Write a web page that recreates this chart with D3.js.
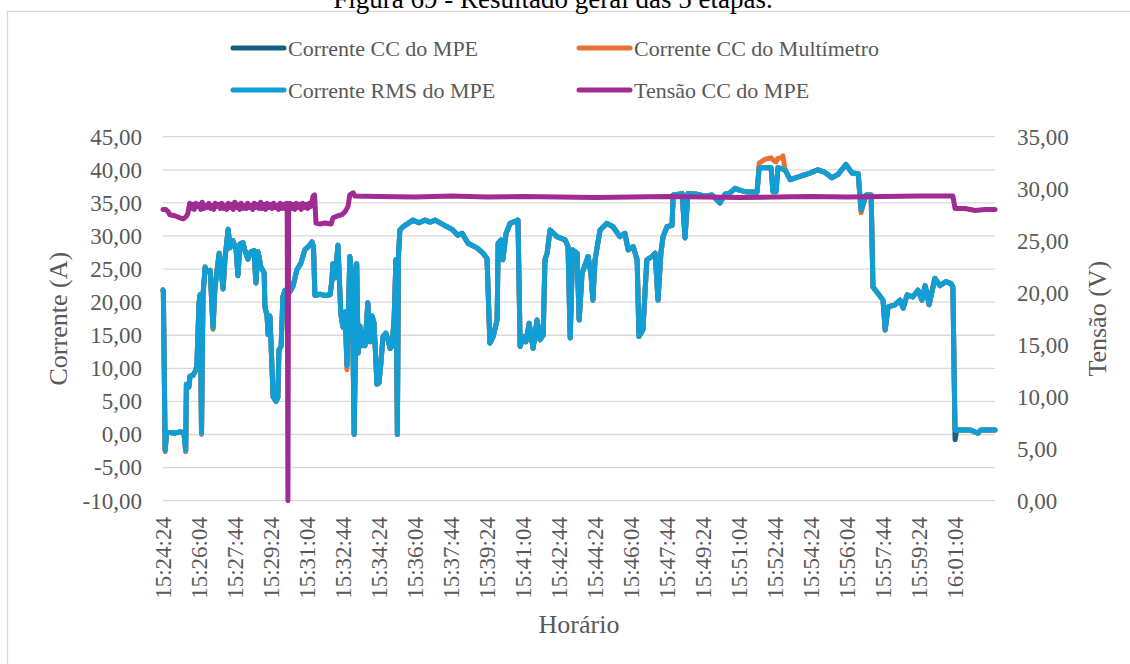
<!DOCTYPE html>
<html>
<head>
<meta charset="utf-8">
<script src="https://cdn.jsdelivr.net/npm/d3@7"></script>
<style>
  body { margin: 0; background: #fff; }
  svg { display: block; font-family: "Liberation Serif", "Times New Roman", serif; }
</style>
</head>
<body>
<svg id="chart" width="1130" height="664"></svg>
<script>
// Tempo decorrido (s) desde 15:24:24 para as três correntes
const tempoCorrente = [
  0, 1, 6, 10, 19, 33, 47, 58, 63, 65,
  72, 75, 83, 89, 94, 100, 103, 107, 111, 117,
  122, 131, 139, 144, 156, 161, 167, 172, 181, 186,
  194, 203, 208, 214, 222, 228, 236, 244, 253, 258,
  264, 272, 281, 283, 289, 292, 297, 306, 314, 319,
  322, 328, 333, 339, 353, 361, 372, 383, 394, 406,
  414, 418, 422, 436, 450, 464, 469, 472, 478, 486,
  490, 494, 500, 506, 511, 519, 525, 531, 538, 542,
  547, 552, 556, 561, 569, 575, 581, 586, 592, 594,
  600, 606, 611, 619, 625, 631, 636, 642, 647, 651,
  654, 658, 667, 681, 694, 711, 728, 742, 756, 772,
  789, 803, 819, 831, 847, 858, 872, 889, 900, 908,
  917, 928, 931, 939, 944, 953, 964, 978, 986, 992,
  1000, 1008, 1017, 1028, 1039, 1047, 1056, 1061, 1067, 1075,
  1094, 1117, 1125, 1131, 1138, 1150, 1156, 1164, 1181, 1189,
  1194, 1200, 1214, 1233, 1250, 1269, 1283, 1292, 1306, 1317,
  1322, 1333, 1344, 1358, 1367, 1375, 1383, 1389, 1400, 1414,
  1417, 1442, 1450, 1458, 1483, 1506, 1525, 1547, 1561, 1575,
  1589, 1603, 1617, 1650, 1656, 1672, 1689, 1694, 1703, 1708,
  1717, 1722, 1728, 1742, 1769, 1797, 1819, 1839, 1858, 1875,
  1897, 1914, 1931, 1939, 1953, 1967, 1972, 1986, 2000, 2006,
  2014, 2033, 2047, 2056, 2067, 2083, 2097, 2108, 2117, 2128,
  2144, 2158, 2175, 2189, 2194, 2200, 2205, 2214, 2242, 2264,
  2272, 2311
];

// Corrente RMS do MPE (A)
const correnteRMS = [
  21.8, 21.5, -2.4, 0.3, 0.3, 0.2, 0.4, 0.3, -2.4, 7.6,
  7.2, 8.8, 8.9, 9.5, 10.3, 19.8, 21.1, 0.2, 21.0, 25.3,
  24.6, 24.8, 16.1, 22.0, 27.4, 25.0, 22.0, 26.5, 31.0, 28.2,
  29.3, 28.0, 24.0, 28.8, 29.0, 27.7, 26.5, 27.6, 27.8, 22.9,
  27.6, 25.3, 24.4, 19.3, 17.9, 15.1, 17.9, 5.7, 5.0, 5.6,
  12.8, 13.3, 20.8, 21.8, 21.6, 22.4, 24.9, 25.9, 27.9, 28.5,
  29.1, 28.3, 21.0, 21.2, 21.0, 21.1, 23.2, 25.8, 23.7, 28.6,
  23.2, 18.2, 16.2, 18.5, 10.4, 26.9, 24.0, 0.0, 25.8, 12.3,
  16.4, 13.4, 15.3, 13.4, 19.9, 14.0, 17.9, 16.9, 10.4, 7.6,
  7.8, 11.3, 14.8, 15.3, 14.3, 13.0, 13.4, 17.4, 26.4, 0.0,
  27.0, 30.9, 31.4, 31.9, 32.4, 32.0, 32.4, 32.1, 32.4, 31.9,
  31.4, 31.0, 30.1, 30.4, 28.9, 28.6, 28.2, 27.4, 26.6, 13.8,
  14.8, 17.3, 28.9, 29.4, 26.4, 30.4, 31.9, 32.2, 32.4, 13.3,
  14.8, 14.0, 16.8, 13.0, 17.3, 14.3, 15.0, 26.4, 27.4, 30.9,
  29.9, 29.4, 28.4, 14.6, 27.9, 27.4, 17.3, 24.4, 26.9, 24.0,
  20.3, 26.4, 30.9, 31.9, 31.4, 29.9, 30.4, 27.9, 28.4, 26.4,
  14.8, 15.8, 26.4, 26.9, 27.4, 20.3, 27.4, 29.9, 31.4, 31.6,
  36.2, 36.4, 29.7, 36.4, 36.3, 36.0, 36.2, 35.0, 36.3, 36.5,
  37.2, 36.9, 36.7, 36.6, 40.3, 40.3, 40.3, 36.7, 36.7, 40.3,
  40.2, 40.1, 40.0, 38.5, 39.0, 39.5, 40.0, 39.6, 38.8, 39.3,
  40.8, 39.5, 39.4, 33.9, 36.2, 36.2, 22.3, 21.3, 20.3, 15.8,
  19.3, 19.6, 20.3, 19.1, 21.1, 20.8, 21.8, 20.3, 22.5, 19.6,
  23.6, 22.5, 23.1, 22.8, 22.3, 0.7, 0.7, 0.7, 0.7, 0.2,
  0.7, 0.7
];

// Corrente CC do MPE (A)
const correnteCC = [
  21.8, 21.5, -2.4, 0.3, 0.3, 0.2, 0.4, 0.3, -2.4, 7.6,
  7.2, 8.8, 8.9, 9.5, 10.3, 19.8, 21.1, 0.2, 21.0, 25.3,
  24.6, 24.8, 16.1, 22.0, 27.4, 25.0, 22.0, 26.5, 31.0, 28.2,
  29.3, 28.0, 24.0, 28.8, 29.0, 27.7, 26.5, 27.6, 27.8, 22.9,
  27.6, 25.3, 24.4, 19.3, 17.9, 15.1, 17.9, 5.7, 5.0, 5.6,
  12.8, 13.3, 20.8, 21.8, 21.6, 22.4, 24.9, 25.9, 27.9, 28.5,
  29.1, 28.3, 21.0, 21.2, 21.0, 21.1, 23.2, 25.8, 23.7, 28.6,
  23.2, 18.2, 16.2, 18.5, 10.4, 26.9, 24.0, 0.0, 25.8, 12.3,
  16.4, 13.4, 15.3, 13.4, 19.9, 14.0, 17.9, 16.9, 10.4, 7.6,
  7.8, 11.3, 14.8, 15.3, 14.3, 13.0, 13.4, 17.4, 26.4, 0.0,
  27.0, 30.9, 31.4, 31.9, 32.4, 32.0, 32.4, 32.1, 32.4, 31.9,
  31.4, 31.0, 30.1, 30.4, 28.9, 28.6, 28.2, 27.4, 26.6, 13.8,
  14.8, 17.3, 28.9, 29.4, 26.4, 30.4, 31.9, 32.2, 32.4, 13.3,
  14.8, 14.0, 16.8, 13.0, 17.3, 14.3, 15.0, 26.4, 27.4, 30.9,
  29.9, 29.4, 28.4, 14.6, 27.9, 27.4, 17.3, 24.4, 26.9, 24.0,
  20.3, 26.4, 30.9, 31.9, 31.4, 29.9, 30.4, 27.9, 28.4, 26.4,
  14.8, 15.8, 26.4, 26.9, 27.4, 20.3, 27.4, 29.9, 31.4, 31.6,
  36.2, 36.4, 29.7, 36.4, 36.3, 36.0, 36.2, 35.0, 36.3, 36.5,
  37.2, 36.9, 36.7, 36.6, 40.3, 40.3, 40.3, 36.7, 36.7, 40.3,
  40.2, 40.1, 40.0, 38.5, 39.0, 39.5, 40.0, 39.6, 38.8, 39.3,
  40.8, 39.5, 39.4, 33.9, 36.2, 36.2, 22.3, 21.3, 20.3, 15.8,
  19.3, 19.6, 20.3, 19.1, 21.1, 20.8, 21.8, 20.3, 22.5, 19.6,
  23.6, 22.5, 23.1, 22.8, 22.3, -0.8, 0.7, 0.7, 0.7, 0.2,
  0.7, 0.7
];

// Corrente CC do multímetro (A)
const correnteMultimetro = [
  21.9, 21.5, -2.6, 0.3, 0.3, 0.2, 0.4, 0.3, -2.6, 7.6,
  7.2, 8.8, 8.9, 9.5, 10.3, 19.8, 21.1, 0.0, 21.0, 25.3,
  24.6, 24.8, 15.9, 22.0, 27.4, 25.0, 22.0, 26.5, 31.0, 28.2,
  29.3, 28.0, 24.0, 28.8, 29.0, 27.7, 26.5, 27.6, 27.8, 22.9,
  27.6, 25.3, 24.4, 19.3, 17.9, 15.1, 17.9, 5.7, 5.0, 5.6,
  12.8, 13.3, 20.8, 21.8, 21.6, 22.4, 24.9, 25.9, 27.9, 28.5,
  29.1, 28.3, 21.0, 21.2, 21.0, 21.1, 23.2, 25.8, 23.7, 28.6,
  23.2, 18.0, 16.2, 18.5, 9.8, 26.9, 24.0, 0.0, 25.8, 12.3,
  16.4, 13.4, 15.3, 13.4, 19.9, 14.0, 17.9, 16.9, 10.4, 7.6,
  7.8, 11.3, 14.8, 15.3, 14.3, 13.0, 13.4, 17.4, 26.4, 0.0,
  27.0, 30.9, 31.4, 31.9, 32.4, 32.0, 32.4, 32.1, 32.4, 31.9,
  31.4, 31.0, 30.1, 30.4, 28.9, 28.6, 28.2, 27.4, 26.6, 13.8,
  14.8, 17.3, 28.9, 29.4, 26.4, 30.4, 31.9, 32.2, 32.4, 13.3,
  14.8, 14.0, 16.8, 13.0, 17.3, 14.3, 15.0, 26.4, 27.4, 30.9,
  29.9, 29.4, 28.4, 14.6, 27.9, 27.4, 17.3, 24.4, 26.9, 24.0,
  20.3, 26.4, 30.9, 31.9, 31.4, 29.9, 30.4, 27.9, 28.4, 26.4,
  14.8, 15.8, 26.4, 26.9, 27.4, 20.3, 27.4, 29.9, 31.4, 31.6,
  36.2, 36.4, 29.7, 36.4, 36.3, 36.0, 36.2, 35.0, 36.3, 36.5,
  37.2, 36.9, 36.7, 36.6, 41.0, 41.6, 41.8, 41.5, 41.2, 41.7,
  41.8, 42.1, 40.0, 38.5, 39.0, 39.5, 40.0, 39.6, 38.8, 39.3,
  40.8, 39.5, 39.4, 33.5, 36.2, 36.2, 22.3, 21.3, 20.3, 15.8,
  19.3, 19.6, 20.3, 19.1, 21.1, 20.8, 21.8, 20.3, 22.5, 19.6,
  23.6, 22.5, 23.1, 22.8, 22.3, 0.7, 0.7, 0.7, 0.7, 0.2,
  0.7, 0.7
];

// Tempo decorrido (s) desde 15:24:24 para a tensão
const tempoTensao = [
  0, 8, 14, 19, 33, 47, 56, 64, 69, 74,
  78, 82, 87, 91, 96, 100, 105, 109, 114, 118,
  123, 127, 132, 136, 141, 145, 150, 154, 159, 163,
  168, 172, 177, 181, 186, 190, 195, 199, 204, 208,
  213, 217, 222, 226, 231, 235, 240, 244, 249, 253,
  258, 262, 267, 271, 276, 280, 285, 289, 294, 298,
  303, 307, 312, 316, 321, 325, 330, 334, 339, 343,
  345, 347, 349, 352, 357, 361, 366, 370, 375, 379,
  384, 388, 393, 397, 402, 406, 411,
  417, 421, 425, 436, 450, 467, 472, 486, 497, 506, 514, 519, 528, 533,
  600, 700, 800, 900, 1000, 1100, 1200, 1300, 1400, 1500,
  1600, 1700, 1800, 1900, 2000, 2100, 2194,
  2200, 2228, 2256, 2283, 2311
];

// Tensão CC do MPE (V)
const tensaoCC = [
  28.0, 28.0, 27.8, 27.5, 27.4, 27.2, 27.1, 27.3, 27.6, 28.6,
  28.1, 28.5, 28.0, 28.6, 28.3, 28.5, 28.0, 28.7, 28.1, 28.4,
  28.2, 28.6, 28.1, 28.4, 28.0, 28.6, 28.3, 28.5, 28.1, 28.6,
  28.1, 28.4, 28.0, 28.6, 28.2, 28.5, 28.0, 28.7, 28.2, 28.5,
  28.0, 28.6, 28.1, 28.4, 28.1, 28.6, 28.2, 28.4, 28.0, 28.6,
  28.2, 28.5, 28.1, 28.7, 28.1, 28.5, 28.0, 28.6, 28.2, 28.5,
  28.1, 28.6, 28.2, 28.4, 28.0, 28.6, 28.1, 28.5, 28.1, 28.6,
  28.3, 0.0, 28.3, 28.6, 28.1, 28.5, 28.0, 28.6, 28.2, 28.5,
  28.0, 28.6, 28.2, 28.5, 28.1, 28.6, 28.3,
  29.3, 29.4, 26.7, 26.6, 26.7, 26.6, 27.2, 27.4, 27.5, 27.8, 28.3, 29.4, 29.6, 29.3,
  29.25, 29.2, 29.3, 29.2, 29.25, 29.2, 29.15, 29.2, 29.25, 29.2,
  29.15, 29.2, 29.25, 29.2, 29.25, 29.3, 29.3,
  28.1, 28.1, 27.9, 28.0, 28.0
];

// Rótulos do eixo horizontal
const rotulosHorario = [
  "15:24:24", "15:26:04", "15:27:44", "15:29:24", "15:31:04", "15:32:44",
  "15:34:24", "15:36:04", "15:37:44", "15:39:24", "15:41:04", "15:42:44",
  "15:44:24", "15:46:04", "15:47:44", "15:49:24", "15:51:04", "15:52:44",
  "15:54:24", "15:56:04", "15:57:44", "15:59:24", "16:01:04"
];
const ticksCorrente = [-10, -5, 0, 5, 10, 15, 20, 25, 30, 35, 40, 45];
const ticksTensao = [0, 5, 10, 15, 20, 25, 30, 35];

const series = [
  { nome: "Corrente CC do MPE", cor: "#156082", t: tempoCorrente, v: correnteCC, eixo: "A" },
  { nome: "Corrente CC do Multímetro", cor: "#E97132", t: tempoCorrente, v: correnteMultimetro, eixo: "A" },
  { nome: "Corrente RMS do MPE", cor: "#0F9ED5", t: tempoCorrente, v: correnteRMS, eixo: "A" },
  { nome: "Tensão CC do MPE", cor: "#A02B93", t: tempoTensao, v: tensaoCC, eixo: "V" }
];

const W = 1130, H = 664;
const area = { left: 163, right: 995, top: 136.7, bottom: 500.7 };
const svg = d3.select("#chart");
const cinza = "#595959";

// Moldura do gráfico
svg.append("rect")
  .attr("x", 7.5).attr("y", 11.5)
  .attr("width", W).attr("height", H)
  .attr("fill", "#fff").attr("stroke", "#d9d9d9").attr("stroke-width", 1.3);

// Título (acima da moldura)
svg.append("text")
  .attr("x", 553).attr("y", 8)
  .attr("text-anchor", "middle")
  .attr("font-size", 27).attr("fill", "#000")
  .text("Figura 69 - Resultado geral das 5 etapas.");

const x = d3.scaleLinear().domain([0, 2311]).range([area.left, area.right]);
const yA = d3.scaleLinear().domain([-10, 45]).range([area.bottom, area.top]);
const yV = d3.scaleLinear().domain([0, 35]).range([area.bottom, area.top]);
const ptBR = d3.formatLocale({ decimal: ",", thousands: ".", grouping: [3], currency: ["R$", ""], minus: "-" });
const fmt = ptBR.format(".2f");

// Linhas de grade horizontais
svg.append("g")
  .selectAll("line").data(ticksCorrente).join("line")
  .attr("x1", area.left).attr("x2", area.right)
  .attr("y1", d => yA(d)).attr("y2", d => yA(d))
  .attr("stroke", "#d9d9d9").attr("stroke-width", 1.3);

// Eixo da corrente (esquerda)
const eixoA = svg.append("g")
  .attr("transform", `translate(${area.left - 21},0)`)
  .call(d3.axisLeft(yA).tickValues(ticksCorrente).tickFormat(fmt).tickSize(0).tickPadding(0));
eixoA.select(".domain").remove();
eixoA.selectAll("text").attr("font-size", 23).attr("fill", cinza)
  .attr("font-family", "Liberation Serif, serif");

// Eixo da tensão (direita)
const eixoV = svg.append("g")
  .attr("transform", `translate(${area.right + 22},0)`)
  .call(d3.axisRight(yV).tickValues(ticksTensao).tickFormat(fmt).tickSize(0).tickPadding(0));
eixoV.select(".domain").remove();
eixoV.selectAll("text").attr("font-size", 23).attr("fill", cinza)
  .attr("font-family", "Liberation Serif, serif");

// Eixo horizontal com rótulos de horário
const paraSeg = s => { const [h, m, c] = s.split(":").map(Number); return h * 3600 + m * 60 + c; };
const inicio = paraSeg(rotulosHorario[0]);
svg.append("g")
  .selectAll("text").data(rotulosHorario).join("text")
  .attr("transform", d => `translate(${x(paraSeg(d) - inicio)},517) rotate(-90)`)
  .attr("text-anchor", "end").attr("dy", "0.35em")
  .attr("font-size", 23).attr("fill", cinza)
  .text(d => d);

// Títulos dos eixos
svg.append("text")
  .attr("transform", `translate(58,${(area.top + area.bottom) / 2}) rotate(-90)`)
  .attr("text-anchor", "middle").attr("dy", "0.35em")
  .attr("font-size", 26).attr("fill", cinza).text("Corrente (A)");
svg.append("text")
  .attr("transform", `translate(1097,${(area.top + area.bottom) / 2}) rotate(-90)`)
  .attr("text-anchor", "middle").attr("dy", "0.35em")
  .attr("font-size", 26).attr("fill", cinza).text("Tensão (V)");
svg.append("text")
  .attr("x", (area.left + area.right) / 2).attr("y", 633)
  .attr("text-anchor", "middle")
  .attr("font-size", 26).attr("fill", cinza).text("Horário");

// Séries
series.forEach(s => {
  const escala = s.eixo === "A" ? yA : yV;
  const pontos = s.t.map((t, i) => [t, s.v[i]]);
  const linha = d3.line().x(d => x(d[0])).y(d => escala(d[1]));
  svg.append("path")
    .datum(pontos)
    .attr("d", linha)
    .attr("fill", "none")
    .attr("stroke", s.cor)
    .attr("stroke-width", 5)
    .attr("stroke-linejoin", "round")
    .attr("stroke-linecap", "round");
});

// Legenda
const legenda = [
  { s: series[0], lx: 233, ly: 48 },
  { s: series[1], lx: 579, ly: 48 },
  { s: series[2], lx: 233, ly: 90 },
  { s: series[3], lx: 579, ly: 90 }
];
const gLeg = svg.append("g");
legenda.forEach(l => {
  gLeg.append("line")
    .attr("x1", l.lx).attr("x2", l.lx + 51)
    .attr("y1", l.ly).attr("y2", l.ly)
    .attr("stroke", l.s.cor).attr("stroke-width", 5).attr("stroke-linecap", "round");
  gLeg.append("text")
    .attr("x", l.lx + 55).attr("y", l.ly + 8)
    .attr("font-size", 22).attr("fill", cinza)
    .text(l.s.nome);
});
</script>
</body>
</html>
